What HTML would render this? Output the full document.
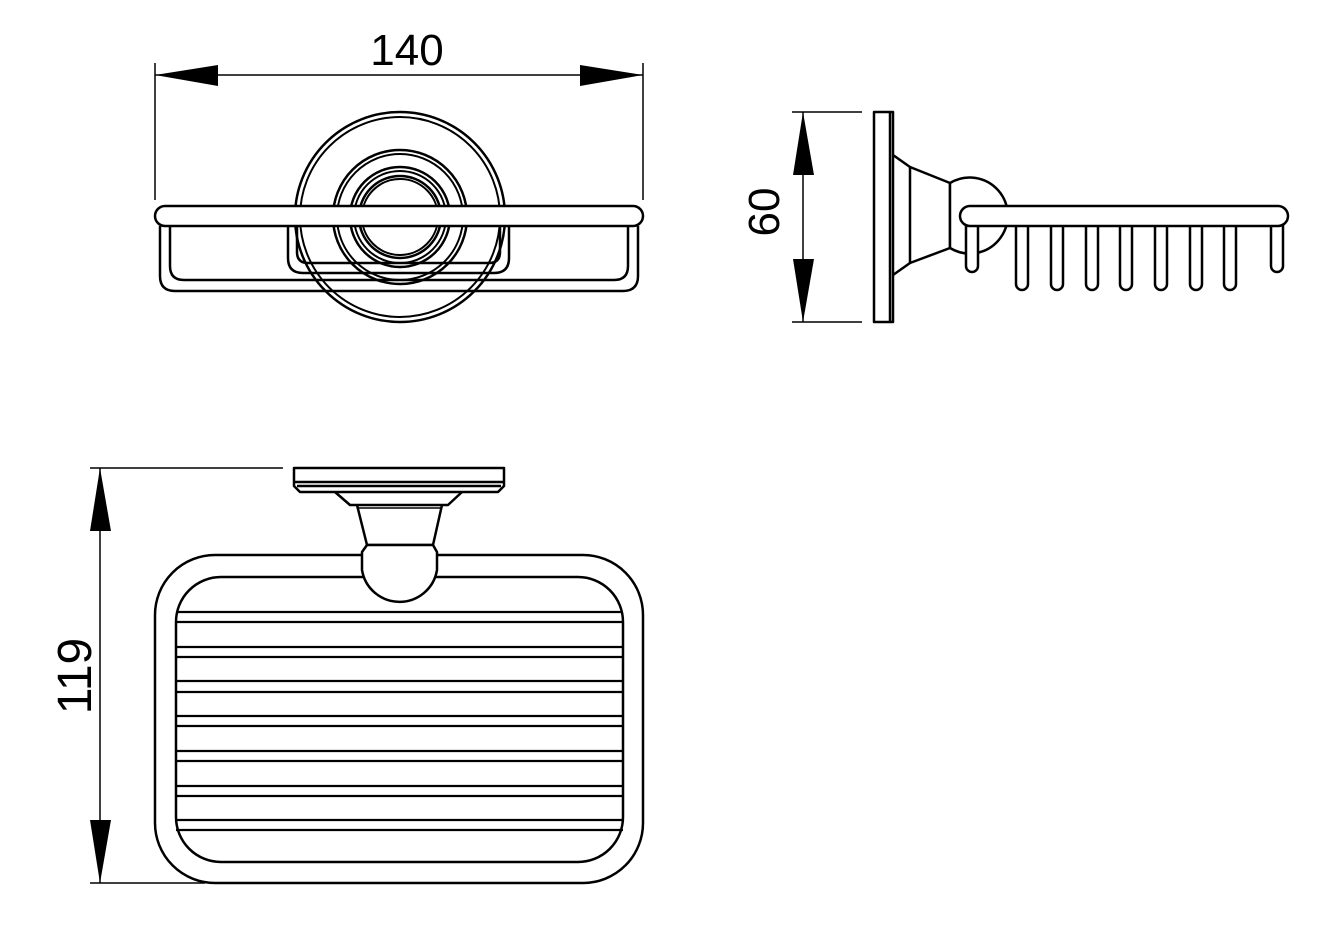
<!DOCTYPE html>
<html><head><meta charset="utf-8"><style>
html,body{margin:0;padding:0;background:#fff;}
svg{display:block;}
text{font-family:"Liberation Sans",sans-serif;fill:#000;}
</style></head><body>
<svg width="1329" height="945" viewBox="0 0 1329 945" xmlns="http://www.w3.org/2000/svg">
<g fill="none" stroke="#000" stroke-width="2.5" stroke-linejoin="round">
<!-- ===== Top view ===== -->
<circle cx="400" cy="217" r="105"/>
<circle cx="400" cy="217" r="100" stroke-width="2"/>
<circle cx="400" cy="217" r="67"/>
<circle cx="400" cy="217" r="63" stroke-width="2"/>
<circle cx="400" cy="217" r="50"/>
<circle cx="400" cy="217" r="46" stroke-width="2"/>
<circle cx="400" cy="217" r="41"/>
<circle cx="400" cy="217" r="38" stroke-width="2"/>
<!-- outer basket U -->
<path d="M160 226 V276 Q160 291 175 291 H623 Q638 291 638 276 V226"/>
<path d="M170 226 V266 Q170 280 184 280 H614 Q628 280 628 266 V226"/>
<!-- middle U -->
<path d="M288 226 V258 Q288 273 303 273 H494 Q509 273 509 258 V226"/>
<path d="M297 226 V252 Q297 263 308 263 H489 Q500 263 500 252 V226"/>
<rect x="155" y="206" width="488" height="20" rx="10" fill="#fff"/>
<!-- 140 dimension -->
<line x1="155" y1="63" x2="155" y2="200" stroke-width="1.5"/>
<line x1="643" y1="63" x2="643" y2="200" stroke-width="1.5"/>
<line x1="155" y1="75" x2="643" y2="75" stroke-width="1.5"/>

<!-- ===== Side view ===== -->
<rect x="874" y="112" width="19" height="210"/>
<line x1="890" y1="112" x2="890" y2="322"/>
<path d="M893 155 L910 167 V263 L893 275"/>
<path d="M910 167 L950 183 V248 L910 263"/>
<path d="M950 183 A38 38 0 1 1 950 248 Z" fill="#fff"/>
<g fill="#fff">
<rect x="966" y="212" width="12" height="60" rx="6"/>
<rect x="1016" y="212" width="12" height="78" rx="6"/>
<rect x="1051" y="212" width="12" height="78" rx="6"/>
<rect x="1086" y="212" width="12" height="78" rx="6"/>
<rect x="1120" y="212" width="12" height="78" rx="6"/>
<rect x="1155" y="212" width="12" height="78" rx="6"/>
<rect x="1190" y="212" width="12" height="78" rx="6"/>
<rect x="1224" y="212" width="12" height="78" rx="6"/>
<rect x="1271" y="212" width="12" height="60" rx="6"/>
<rect x="960" y="206" width="328" height="20" rx="10"/>
</g>
<!-- 60 dimension -->
<line x1="792" y1="112" x2="862" y2="112" stroke-width="1.5"/>
<line x1="792" y1="322" x2="862" y2="322" stroke-width="1.5"/>
<line x1="803" y1="112" x2="803" y2="322" stroke-width="1.5"/>

<!-- ===== Bottom view ===== -->
<rect x="155" y="555" width="488" height="328" rx="60" ry="60"/>
<rect x="176" y="577" width="447" height="285" rx="45" ry="45"/>
<g stroke-width="2.2">
<line x1="176" y1="612" x2="623" y2="612"/><line x1="176" y1="622" x2="623" y2="622"/>
<line x1="176" y1="647" x2="623" y2="647"/><line x1="176" y1="657" x2="623" y2="657"/>
<line x1="176" y1="681" x2="623" y2="681"/><line x1="176" y1="692" x2="623" y2="692"/>
<line x1="176" y1="716" x2="623" y2="716"/><line x1="176" y1="726" x2="623" y2="726"/>
<line x1="176" y1="751" x2="623" y2="751"/><line x1="176" y1="761" x2="623" y2="761"/>
<line x1="176" y1="786" x2="623" y2="786"/><line x1="176" y1="796" x2="623" y2="796"/>
<line x1="176" y1="820" x2="623" y2="820"/><line x1="176" y1="830" x2="623" y2="830"/>
</g>
<path d="M294 468 H504 V486 L498 492 H300 L294 486 Z" fill="#fff"/>
<line x1="294" y1="482" x2="504" y2="482"/>
<line x1="297" y1="486" x2="501" y2="486"/>
<path d="M335 492 L350 505 H448 L462 492"/>
<path d="M357 505 L367 545 H433 L442 505"/>
<line x1="358" y1="508" x2="441" y2="508" stroke-width="1.5"/>
<path d="M367 545 L362 552 V570 A38 38 0 0 0 437 570 V552 L433 545 Z" fill="#fff"/>
<!-- 119 dimension -->
<line x1="90" y1="468" x2="283" y2="468" stroke-width="1.5"/>
<line x1="90" y1="883" x2="205" y2="883" stroke-width="1.5"/>
<line x1="100" y1="468" x2="100" y2="883" stroke-width="1.5"/>
</g>
<g fill="#000">
<polygon points="155,75 218,65 218,86"/>
<polygon points="643,75 580,65 580,86"/>
<polygon points="803,112 793,175 814,175"/>
<polygon points="803,322 793,259 814,259"/>
<polygon points="100,468 90,531 111,531"/>
<polygon points="100,883 90,820 111,820"/>
</g>
<text x="407" y="65" font-size="44" text-anchor="middle">140</text>
<text x="0" y="0" font-size="44" text-anchor="middle" transform="translate(779,212) rotate(-90)">60</text>
<text x="0" y="0" font-size="48" text-anchor="middle" transform="translate(91,676) rotate(-90)">119</text>
</svg>
</body></html>
